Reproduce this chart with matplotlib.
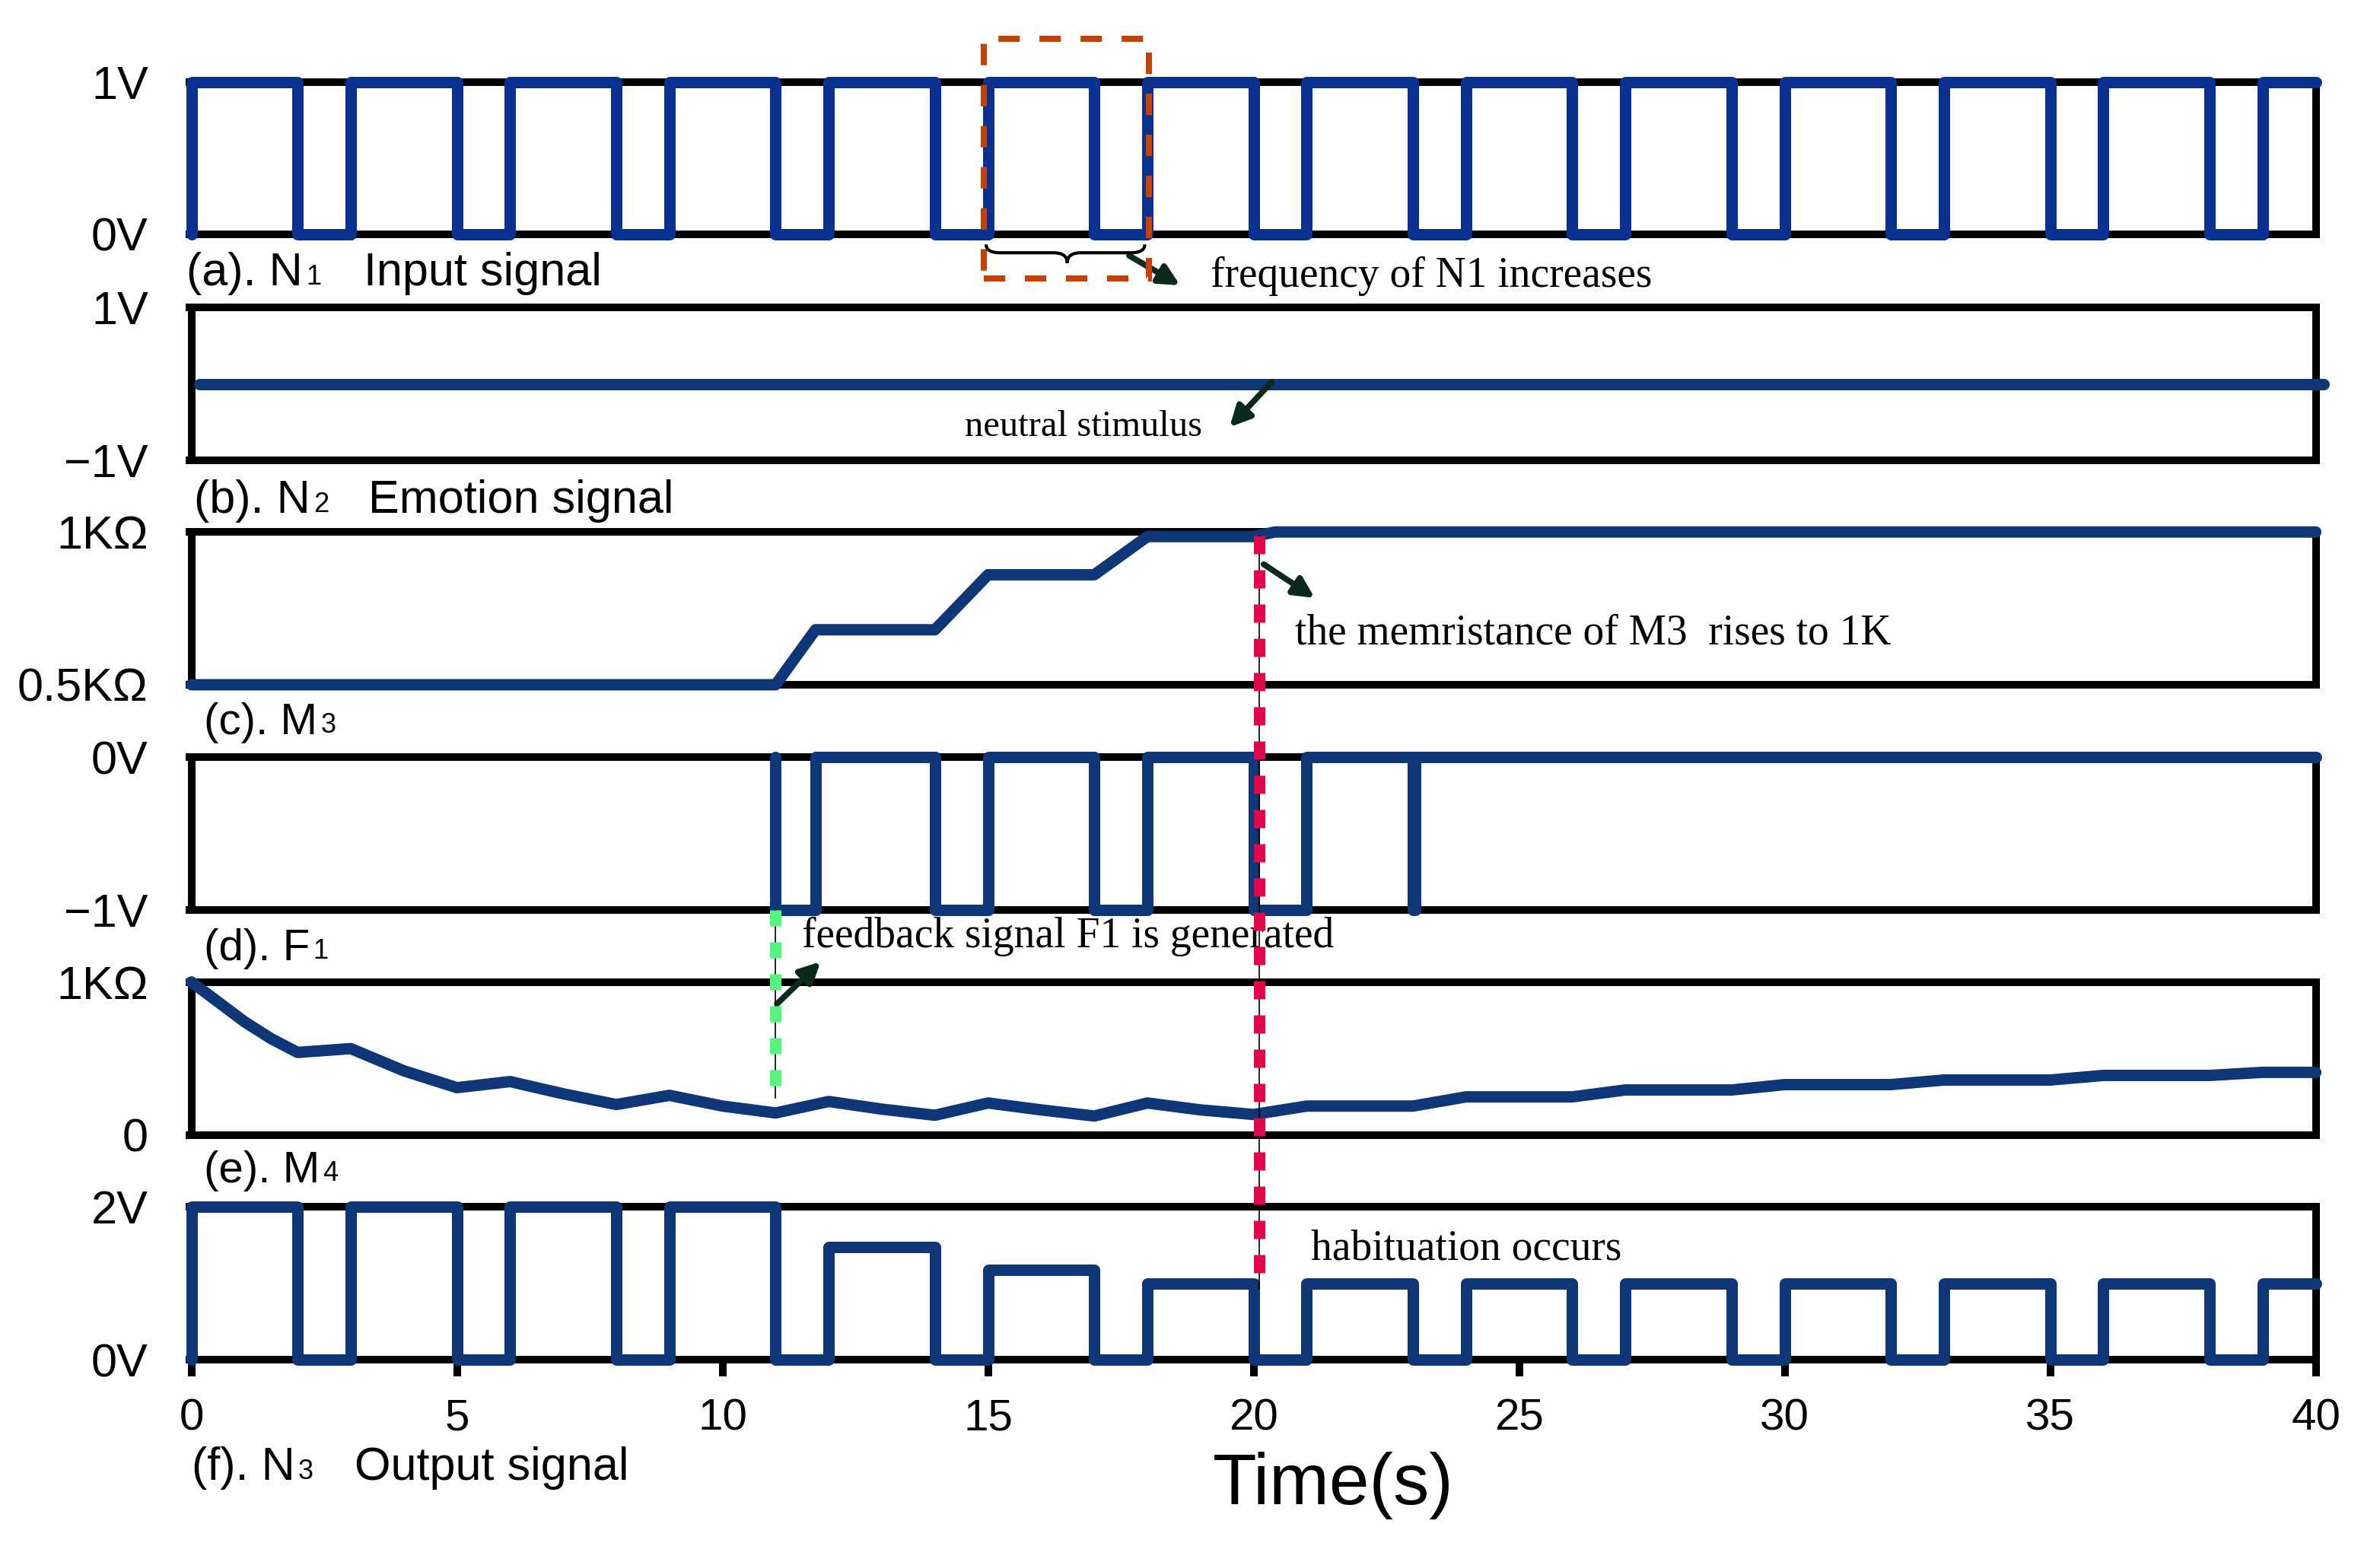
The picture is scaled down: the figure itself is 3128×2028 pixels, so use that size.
import numpy as np
import matplotlib
matplotlib.use("Agg")
import matplotlib.pyplot as plt
from matplotlib.lines import Line2D
from matplotlib.patches import Rectangle, PathPatch, FancyArrowPatch
from matplotlib.path import Path
from matplotlib.transforms import blended_transform_factory

plt.rcParams['font.family'] = ['Liberation Sans', 'DejaVu Sans']
SERIF = ['Liberation Serif', 'DejaVu Serif']

# --- data (time in s) ---
pulse_on = [0, 3, 6, 9, 12, 15, 18, 21, 24, 27, 30, 33, 36, 39]
pulse_off = [2, 5, 8, 11, 14, 17, 20, 23, 26, 29, 32, 35, 38, 40]
n1_level = [1, 1, 1, 1, 1, 1, 1, 1, 1, 1, 1, 1, 1, 1]          # V
n3_level = [2, 2, 2, 2, 1.47, 1.17, 1.0, 1.0, 1.0, 1.0, 1.0, 1.0, 1.0, 1.0]  # V

n2_t = [0.15, 40.15]
n2_v = [0, 0]

m3_t = [0, 11, 11.75, 14, 15, 17, 18, 20, 20.4, 40]
m3_v = [0.5, 0.5, 0.68, 0.68, 0.86, 0.86, 0.985, 0.985, 1.0, 1.0]   # KOhm

f1_low_on = [11, 14, 17, 20, 23]
f1_low_off = [11.75, 15, 18, 21, 23.05]
f1_level = [-1, -1, -1, -1, -1]

m4_t = [0, 0.5, 1, 1.5, 2, 3, 4, 5, 6, 7, 8, 9, 10, 11, 12, 13, 14, 15, 16, 17,
        18, 19, 20, 21, 23, 24, 26, 27, 29, 30, 32, 33, 35, 36, 38, 39, 40]
m4_v = [1.0, 0.87, 0.74, 0.63, 0.54, 0.565, 0.42, 0.31, 0.35, 0.27, 0.20, 0.26,
        0.19, 0.145, 0.22, 0.17, 0.13, 0.21, 0.165, 0.125, 0.21, 0.165, 0.135,
        0.19, 0.19, 0.25, 0.25, 0.295, 0.295, 0.33, 0.33, 0.36, 0.36, 0.39,
        0.39, 0.41, 0.41]   # KOhm

x_ticks = [0, 5, 10, 15, 20, 25, 30, 35, 40]
habituation_t = 20.1
feedback_t = 11.0
box_t = (14.92, 18.03)


def step_trace(on, off, levels, base, t_end):
    t, v = [], []
    for a, b, h in zip(on, off, levels):
        t += [a, a, b]
        v += [base, h, h]
        if b < t_end:
            t.append(b)
            v.append(base)
    if t[-1] < t_end:
        t.append(t_end)
        v.append(base)
    return t, v


n1_t, n1_v = step_trace(pulse_on, pulse_off, n1_level, 0, 40)
n3_t, n3_v = step_trace(pulse_on, pulse_off, n3_level, 0, 40)
f1_t, f1_v = step_trace(f1_low_on, f1_low_off, f1_level, 0, 40)

# --- layout in reference pixels (half scale) ---
W, H = 1564, 1014


def fx(x):
    return x / W


def fy(y):
    return 1 - y / H


fig = plt.figure(figsize=(15.64, 10.14), dpi=200)

panels = [(54.2, 154), (202, 302.5), (349.6, 450), (497.5, 597.8), (645.3, 746), (793, 893.6)]
ax_l, ax_r = 125.8, 1521.8
ylims = [(0, 1), (-1, 1), (0.5, 1), (-1, 0), (0, 1), (0, 2)]
ylabels = [['0V', '1V'], ['\u22121V', '1V'], ['0.5K\u03a9', '1K\u03a9'],
           ['\u22121V', '0V'], ['0', '1K\u03a9'], ['0V', '2V']]
traces = [(n1_t, n1_v), (n2_t, n2_v), (m3_t, m3_v), (f1_t, f1_v), (m4_t, m4_v), (n3_t, n3_v)]
colors = ['#0A318F', '#0F3778', '#0F3778', '#0F3778', '#0F3778', '#0F3778']

axes = []
for (top, bot), yl, lab, (t, v), c in zip(panels, ylims, ylabels, traces, colors):
    ax = fig.add_axes([fx(ax_l), fy(bot), (ax_r - ax_l) / W, (bot - top) / H])
    ax.plot(t, v, color=c, lw=5.4, clip_on=False, zorder=3,
            solid_capstyle='round', solid_joinstyle='round')
    ax.set_xlim(0, 40)
    ax.set_ylim(*yl)
    ax.set_yticks(list(yl))
    ax.set_yticklabels(lab, fontsize=22)
    ax.tick_params(axis='y', direction='out', length=3, width=3.6, pad=17.5)
    ax.tick_params(axis='x', bottom=False, labelbottom=False)
    for s in ax.spines.values():
        s.set_linewidth(3.6)
        s.set_color('black')
    axes.append(ax)

ax_f = axes[5]
ax_f.set_xticks(x_ticks)
ax_f.set_xticklabels([str(x) for x in x_ticks], fontsize=21)
ax_f.tick_params(axis='x', bottom=True, labelbottom=True, direction='out',
                 length=8, width=3.6, pad=10)

# panel labels
labels = [("(a). N", "1", "Input signal", 122.5, 187.4, 239, 22),
          ("(b). N", "2", "Emotion signal", 127.5, 336.8, 242, 22),
          ("(c). M", "3", None, 134, 482.4, None, 21),
          ("(d). F", "1", None, 134, 630.8, None, 21),
          ("(e). M", "4", None, 134, 776.8, None, 21),
          ("(f). N", "3", "Output signal", 125.8, 972.3, 233, 22)]
for head, sub, tail, x, y, xt, fs in labels:
    t1 = fig.text(fx(x), fy(y), head, fontsize=fs, va='baseline')
    axes[0].annotate(sub, xy=(1, 0), xycoords=t1, xytext=(1.5, 2),
                     textcoords='offset points', fontsize=13, va='bottom',
                     ha='left', annotation_clip=False)
    if tail:
        fig.text(fx(xt), fy(y), tail, fontsize=fs, va='baseline')

fig.text(fx(796.7), fy(988.4), "Time(s)", fontsize=34, va='baseline')

# annotations
notes = [("frequency of N1 increases", 795.7, 188.6, 20),
         ("neutral stimulus", 634, 286.3, 17.5),
         ("the memristance of M3  rises to 1K", 851, 423.2, 20),
         ("feedback signal F1 is generated", 526.8, 622.5, 20),
         ("habituation occurs", 861.6, 827.9, 20)]
for s, x, y, fs in notes:
    fig.text(fx(x), fy(y), s, fontsize=fs, family=SERIF, va='baseline', zorder=3)

arrows = [((742, 168), (775.5, 187.5)),
          ((835.7, 251), (808, 280.7)),
          ((830.4, 370.8), (864, 393)),
          ((510.6, 659.7), (539.3, 632))]
for (x0, y0), (x1, y1) in arrows:
    fig.add_artist(FancyArrowPatch((fx(x0), fy(y0)), (fx(x1), fy(y1)),
                                   transform=fig.transFigure, arrowstyle='-|>',
                                   mutation_scale=20, lw=2.8, color='#0B2A1C',
                                   shrinkA=0, shrinkB=0, zorder=4))

# dashed markers
trans = blended_transform_factory(ax_f.transData, fig.transFigure)
for xv, y0, y1, col, dash in [(habituation_t, 351.8, 847, '#E0084A', (1.6, 1.4)),
                              (feedback_t, 597.8, 721.7, '#55F57F', (1.4, 1.4))]:
    fig.add_artist(Line2D([xv, xv], [fy(y0), fy(y1)], transform=trans,
                          color='black', lw=0.6, zorder=4))
    fig.add_artist(Line2D([xv, xv], [fy(y0), fy(y1)], transform=trans,
                          color=col, lw=5.4, dashes=dash, zorder=4))

fig.add_artist(Rectangle((box_t[0], fy(183)), box_t[1] - box_t[0], fy(25.7) - fy(183),
                         transform=trans, fill=False, edgecolor='#C44205', lw=2.9,
                         linestyle=(0, (3.5, 3.2)), zorder=4))

# curly brace under the box
bx0, bxm, bx1 = 648, 701.3, 752.3
by_top, by_mid, by_bot = 160.6, 166.1, 172.8
q = 9
pts = [(bx0, by_top), (bx0, by_mid), (bx0 + q, by_mid), (bxm - q, by_mid),
       (bxm, by_mid), (bxm, by_bot), (bxm, by_mid), (bxm + q, by_mid),
       (bx1 - q, by_mid), (bx1, by_mid), (bx1, by_top)]
codes = [Path.MOVETO, Path.CURVE3, Path.CURVE3, Path.LINETO, Path.CURVE3, Path.CURVE3,
         Path.CURVE3, Path.CURVE3, Path.LINETO, Path.CURVE3, Path.CURVE3]
brace = Path([(fx(x), fy(y)) for x, y in pts], codes)
fig.add_artist(PathPatch(brace, transform=fig.transFigure, fill=False,
                         edgecolor='black', lw=1.5, zorder=4))

fig.savefig("out.png", dpi=200)
